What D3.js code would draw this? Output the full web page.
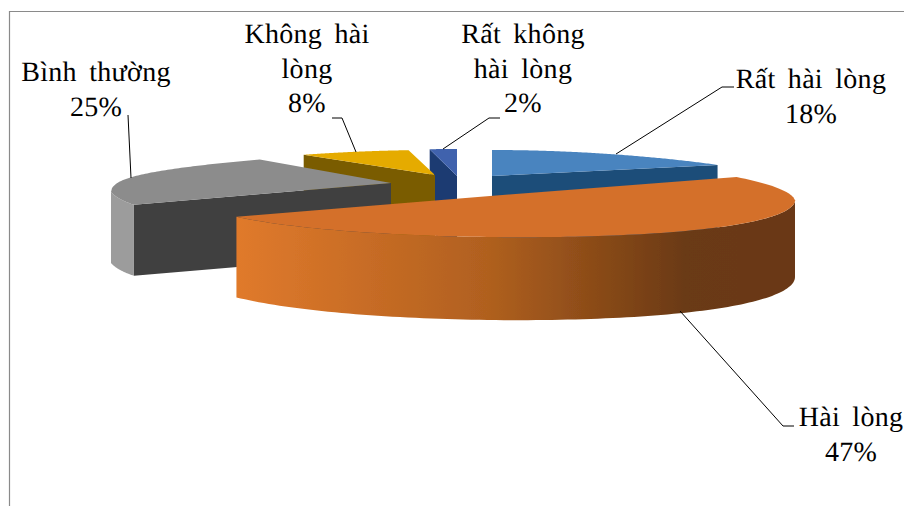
<!DOCTYPE html>
<html><head><meta charset="utf-8">
<script src="https://cdnjs.cloudflare.com/ajax/libs/d3/7.8.5/d3.min.js"></script>
<style>html,body{margin:0;padding:0;background:#fff}svg{display:block}text{text-rendering:geometricPrecision;font-family:"Liberation Serif","Times New Roman",serif}</style>
</head><body><svg id="c" width="904" height="506"></svg>
<script>
const categories = ["Rất hài lòng","Hài lòng","Bình thường","Không hài lòng","Rất không hài lòng"];
const values = [18,47,25,8,2];
const labelLines = [["Rất hài lòng","18%"],["Hài lòng","47%"],["Bình thường","25%"],["Không hài","lòng","8%"],["Rất không","hài lòng","2%"]];
const topColors = ["#4a84bf","#d4702a","#8c8c8c","#e5ab06","#3f62ad"];
const cutColors = ["#1f4e79","#7a3f14","#404040","#7a5c00","#1a3a72"];
const wallColors = ["#2a6099","#c2631f","#9c9c9c","#8a6800","#21457f"];

const centers = [[492,176],[490,196],[391,183],[435,175],[457,176]];
const radii = [[279,26,26],[305,41,41],[280,32,42],[280,25,25],[290,27,27]];
const frontStretch = [0,0.08,0.39,0,0];
const backShrink = 0.25;
const shear = [0,4,-9,0,0];
const backExponent = [1,0.7,0.5,1,1];
const frontExponent = [1,1,2,1,1];
const depths = [80,77,71,80,80];
const depthBulge = [0,6,0,0,0];
const paintOrder = [4,0,3,2,1];
const labelAnchors = [[811,88],[851,426],[96,81],[307,43],[523,43]];
const leaders = [[[734,87],[722,87],[616,154]],[[794,426],[783,426],[680,311]],[[128,115],[131,178]],[[332,118],[342,118],[356,152]],[[500,118],[489,118],[443,149]]];

const svg = d3.select("#c");
const defs = svg.append("defs");
const orangeScale = d3.scaleLinear().domain([0,0.45,0.8,1]).range(["#e07a2c","#b0601f","#6b3a13","#6a3813"]);
const grad = defs.append("linearGradient").attr("id","wall").attr("gradientUnits","userSpaceOnUse")
  .attr("x1",237).attr("x2",795).attr("y1",0).attr("y2",0);
[0,0.2,0.45,0.65,0.8,1].forEach(t=>grad.append("stop").attr("offset",t).attr("stop-color",orangeScale(t)));
defs.append("filter").attr("id","soft").attr("x","-5%").attr("y","-5%").attr("width","110%").attr("height","110%")
  .append("feGaussianBlur").attr("stdDeviation",0.45);

svg.append("path").attr("d","M9.5,506V11.5H904").attr("fill","none").attr("stroke","#8a8a8a").attr("stroke-width",1.2);

const arcs = d3.pie().sort(null).value(d=>d)(values);
function project(i,a,z){
  const [cx,cy]=centers[i],[rx,ryB,ryF]=radii[i],c=Math.cos(a),s=Math.sin(a);
  const k = c>0 ? 1-backShrink*c : 1+frontStretch[i]*c*c;
  const dy = c>0 ? -ryB*Math.pow(c,backExponent[i]) : ryF*Math.pow(-c,frontExponent[i]);
  return [cx+rx*k*s, cy+dy+shear[i]*s+z];
}
const line = d3.line().curve(d3.curveLinear);
function arcAngles(a0,a1){return d3.range(0,121).map(j=>a0+(a1-a0)*j/120);}
const g = svg.append("g").attr("filter","url(#soft)");
paintOrder.forEach(i=>{
  const {startAngle:a0,endAngle:a1}=arcs[i],[cx,cy]=centers[i],h=depths[i];
  const hAt=a=>h+depthBulge[i]*Math.max(0,-Math.cos(a));
  const cut=a=>{const p=project(i,a,0);
    g.append("path").attr("d",line([[cx,cy],p,[p[0],p[1]+hAt(a)],[cx,cy+h]])+"Z").attr("fill",cutColors[i]);};
  if(Math.sin(a0)<-1e-6) cut(a0);
  if(Math.sin(a1)>1e-6) cut(a1);
  const front=arcAngles(a0,a1).filter(a=>Math.cos(a)<0);
  if(front.length){
    const t=front.map(a=>project(i,a,0)),b=front.map(a=>project(i,a,hAt(a))).reverse();
    g.append("path").attr("d",line(t.concat(b))+"Z").attr("fill",i===1?"url(#wall)":wallColors[i]);
  }
  const tp=[[cx,cy]].concat(arcAngles(a0,a1).map(a=>project(i,a,0)));
  g.append("path").attr("d",line(tp)+"Z").attr("fill",topColors[i]);
});

leaders.forEach(l=>svg.append("path").attr("d",line(l)).attr("fill","none").attr("stroke","#000").attr("stroke-width",1));

categories.forEach((c,i)=>{
  const t=svg.append("text").attr("text-anchor","middle")
    .attr("font-size",28).attr("fill","#000").style("word-spacing","5px").style("letter-spacing","0.3px");
  labelLines[i].forEach((s,j)=>t.append("tspan").attr("x",labelAnchors[i][0]).attr("y",labelAnchors[i][1]+j*34.5).text(s));
});
</script></body></html>
